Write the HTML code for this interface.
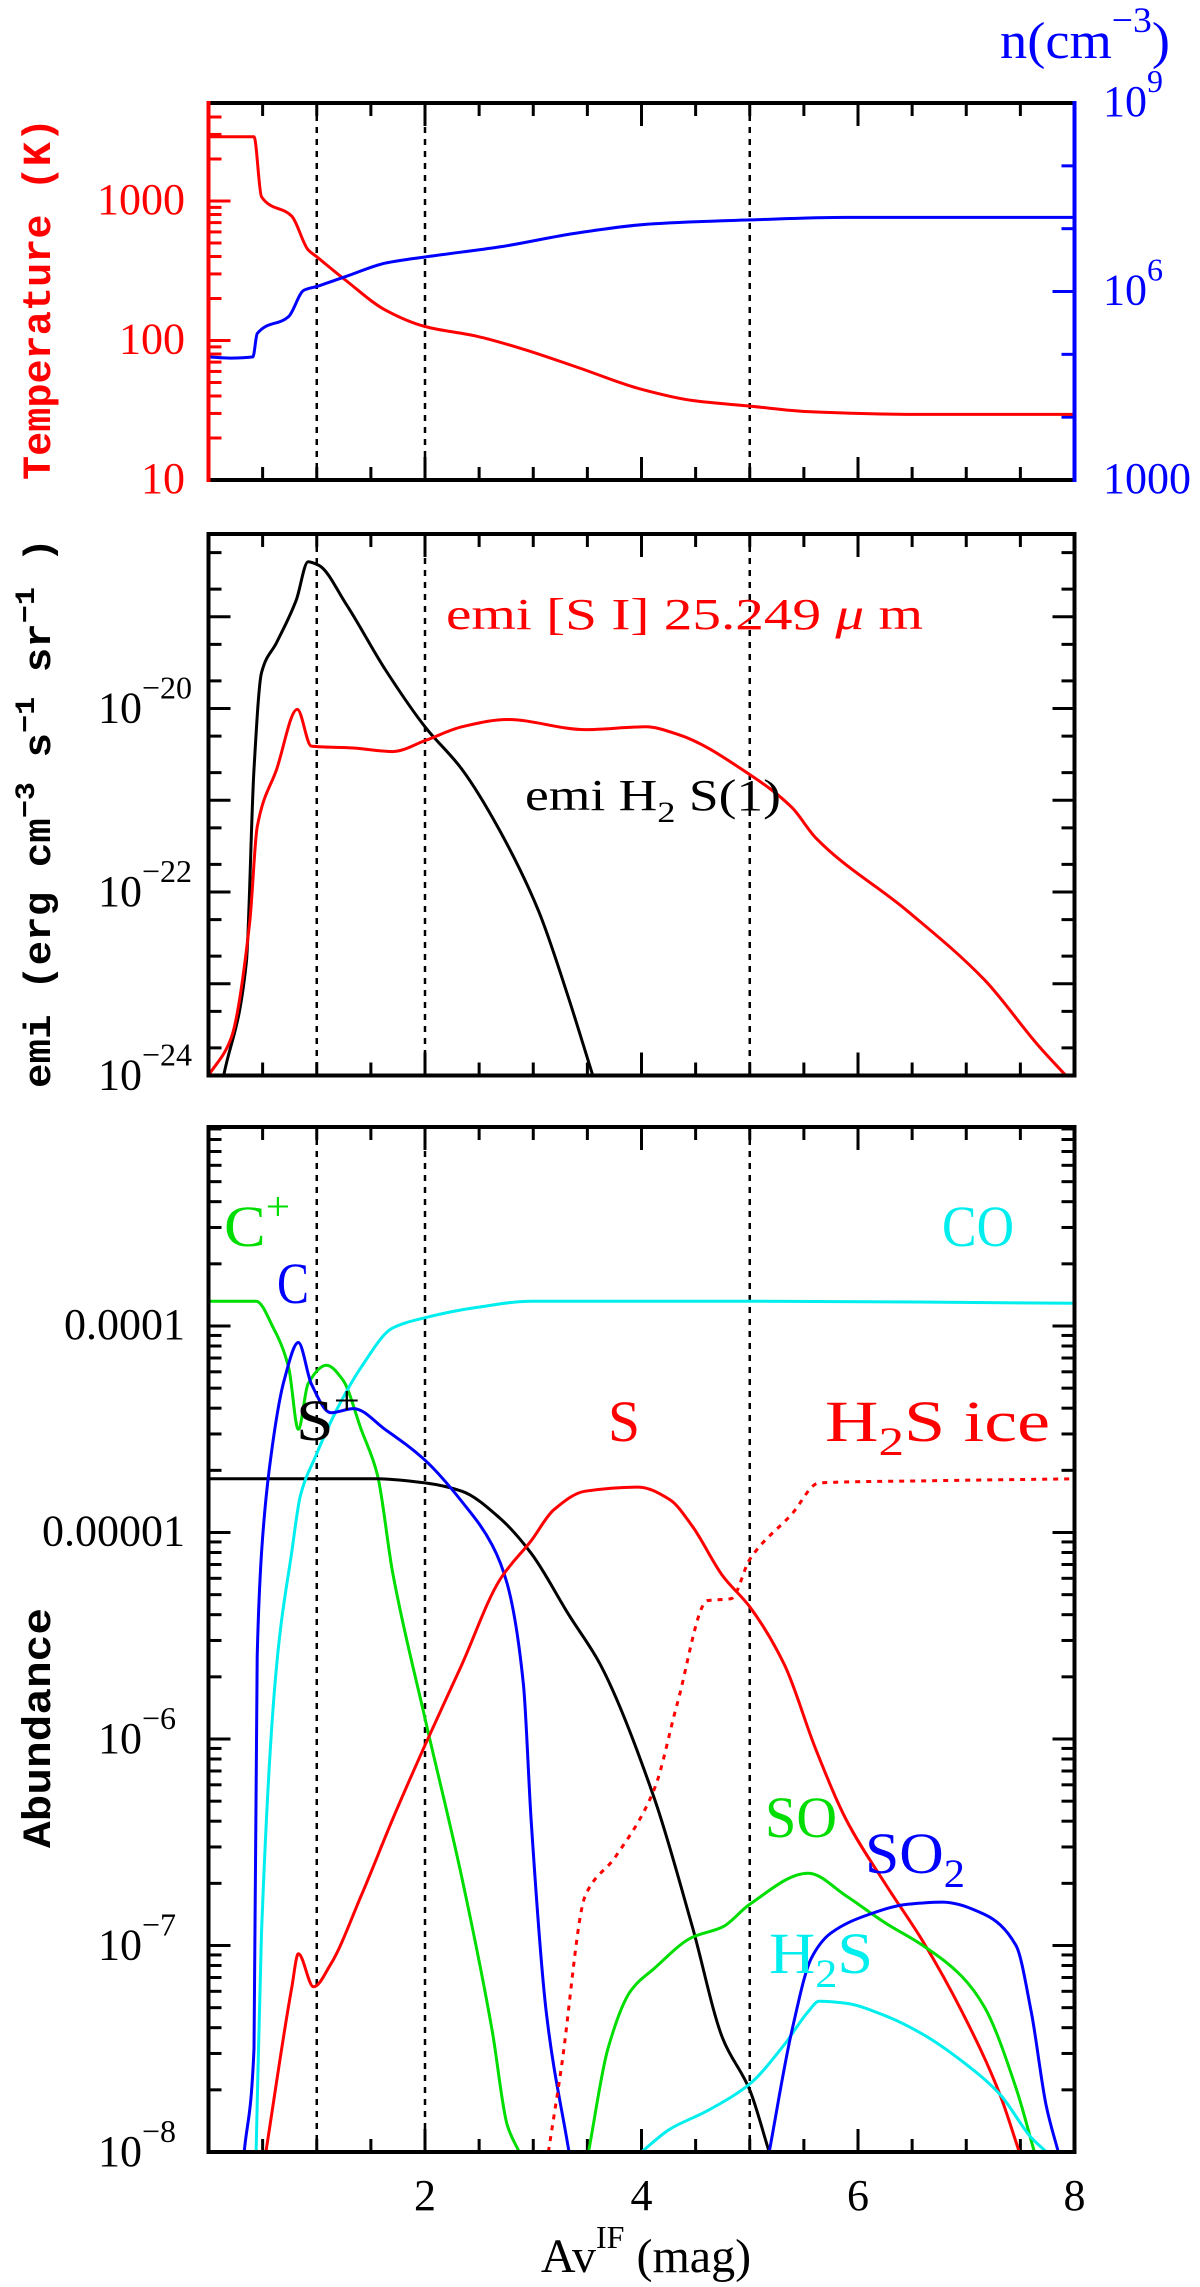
<!DOCTYPE html>
<html><head><meta charset="utf-8"><title>PDR profiles</title>
<style>
html,body{margin:0;padding:0;background:#fff;}
svg{display:block;}
text{font-family:"Liberation Serif",serif;}
.mono{font-family:"Liberation Mono",monospace;font-weight:bold;}
</style></head>
<body>
<svg id="chart" width="1200" height="2287" viewBox="0 0 1200 2287" xmlns="http://www.w3.org/2000/svg">
<defs>
<clipPath id="c1"><rect x="208.5" y="103" width="866" height="377"/></clipPath>
<clipPath id="c2"><rect x="208.5" y="534" width="866" height="541.5"/></clipPath>
<clipPath id="c3"><rect x="208.5" y="1127" width="866" height="1025"/></clipPath>
</defs>
<g id="g1"></g>
<g id="g2"></g>
<g id="g3"></g>
<g id="labels">
<text class="mono" font-size="40" fill="#f00" transform="translate(50,299) rotate(-90)" text-anchor="middle" textLength="362" lengthAdjust="spacingAndGlyphs">Temperature (K)</text>
<text x="1000" y="58" font-size="52" fill="#00f" textLength="170" lengthAdjust="spacingAndGlyphs">n(cm<tspan dy="-26" font-size="36">−3</tspan><tspan dy="26">)</tspan></text>
<text class="mono" font-size="38" fill="#000" transform="translate(50,813) rotate(-90)" text-anchor="middle" xml:space="preserve" textLength="550" lengthAdjust="spacingAndGlyphs">emi (erg cm<tspan dy="-16" font-size="28">−3</tspan><tspan dy="16"> s</tspan><tspan dy="-16" font-size="28">−1</tspan><tspan dy="16"> sr</tspan><tspan dy="-16" font-size="28">−1</tspan><tspan dy="16"> )</tspan></text>
<text class="mono" font-size="40" fill="#000" transform="translate(50,1728) rotate(-90)" text-anchor="middle" textLength="240" lengthAdjust="spacingAndGlyphs">Abundance</text>
<text x="446" y="629" font-size="44" fill="#f00" textLength="477" lengthAdjust="spacingAndGlyphs">emi [S I] 25.249 <tspan font-style="italic">μ</tspan> m</text>
<text x="525" y="810" font-size="44" fill="#000" textLength="256" lengthAdjust="spacingAndGlyphs">emi H<tspan dy="12" font-size="30">2</tspan><tspan dy="-12"> S(1)</tspan></text>
<text x="224" y="1246" font-size="58" fill="#0d0" textLength="66" lengthAdjust="spacingAndGlyphs">C<tspan dy="-26" font-size="40">+</tspan></text>
<text x="277" y="1303" font-size="58" fill="#00f" textLength="32" lengthAdjust="spacingAndGlyphs">C</text>
<text x="296" y="1440" font-size="58" fill="#000" textLength="64" lengthAdjust="spacingAndGlyphs">S<tspan dy="-26" font-size="40">+</tspan></text>
<text x="942" y="1246" font-size="58" fill="#0ee" textLength="72" lengthAdjust="spacingAndGlyphs">CO</text>
<text x="608" y="1441" font-size="58" fill="#f00" textLength="32" lengthAdjust="spacingAndGlyphs">S</text>
<text x="825" y="1441" font-size="58" fill="#f00" textLength="225" lengthAdjust="spacingAndGlyphs">H<tspan dy="14" font-size="40">2</tspan><tspan dy="-14">S ice</tspan></text>
<text x="765" y="1837" font-size="58" fill="#0d0" textLength="72" lengthAdjust="spacingAndGlyphs">SO</text>
<text x="865" y="1873" font-size="58" fill="#00f" textLength="100" lengthAdjust="spacingAndGlyphs">SO<tspan dy="14" font-size="40">2</tspan></text>
<text x="769" y="1973" font-size="58" fill="#0ee" textLength="104" lengthAdjust="spacingAndGlyphs">H<tspan dy="14" font-size="40">2</tspan><tspan dy="-14">S</tspan></text>
<text x="646" y="2272" font-size="48" text-anchor="middle" fill="#000">Av<tspan dy="-24" font-size="32">IF</tspan><tspan dy="24"> (mag)</tspan></text>
</g>
</svg>
<script>
// ---------- data (x = Av^IF in mag, values are log10) ----------
const tempX   = [0,0.42,0.49,0.77,0.92,1.0,1.27,1.63,2.0,2.48,2.9,3.4,4.0,4.47,5.0,5.54,6.6,8];
const tempLog = [3.46,3.46,3.03,2.89,2.65,2.6,2.43,2.22,2.10,2.03,1.94,1.81,1.65,1.57,1.53,1.49,1.47,1.47];
const densX   = [0,0.2,0.41,0.45,0.74,0.88,1.0,1.27,1.63,2.0,2.69,3.4,4.12,5.0,5.9,8];
const densLog = [4.96,4.94,4.96,5.33,5.6,6.02,6.08,6.24,6.45,6.55,6.71,6.93,7.08,7.14,7.18,7.18];

const h2EmiX   = [0.14,0.35,0.42,0.49,0.63,0.81,0.92,1.02,1.27,1.63,2.0,2.34,2.69,3.05,3.33,3.55];
const h2EmiLog = [-24.0,-22.76,-20.66,-19.61,-19.28,-18.82,-18.40,-18.44,-18.86,-19.57,-20.2,-20.66,-21.33,-22.21,-23.17,-24.0];
const siEmiX   = [0,0.21,0.38,0.45,0.63,0.82,0.95,1.34,1.70,2.0,2.34,2.76,3.48,4.04,4.33,5.0,5.39,5.61,6.46,7.17,7.67,7.92];
const siEmiLog = [-24.0,-23.59,-22.34,-21.29,-20.66,-20.01,-20.41,-20.43,-20.47,-20.35,-20.2,-20.12,-20.23,-20.2,-20.28,-20.72,-21.08,-21.41,-22.21,-22.96,-23.68,-24.0];

const cPlusX   = [0,0.44,0.6,0.74,0.83,0.92,1.09,1.24,1.41,1.56,1.70,2.0,2.34,2.62,2.76,2.87];
const cPlusLog = [-3.88,-3.88,-4.01,-4.2,-4.5,-4.28,-4.19,-4.26,-4.5,-4.72,-5.19,-5.9,-6.67,-7.41,-7.87,-8.0];
const cX       = [0.33,0.42,0.45,0.49,0.56,0.70,0.83,0.95,1.13,1.34,1.63,2.0,2.34,2.62,2.76,2.91,2.98,3.12,3.33];
const cLog     = [-8.0,-7.5,-5.6,-5.1,-4.7,-4.26,-4.08,-4.28,-4.42,-4.4,-4.5,-4.65,-4.85,-5.06,-5.25,-5.74,-6.39,-7.32,-8.0];
const coX      = [0.44,0.49,0.63,0.77,0.85,0.99,1.2,1.41,1.70,2.0,2.48,2.98,5.0,8];
const coLog    = [-8.0,-6.94,-5.64,-5.09,-4.82,-4.63,-4.39,-4.2,-4.01,-3.96,-3.91,-3.88,-3.88,-3.89];
const sPlusX   = [0,1.56,2.0,2.34,2.69,2.98,3.33,3.62,4.12,4.47,4.75,5.0,5.18];
const sPlusLog = [-4.74,-4.74,-4.76,-4.8,-4.93,-5.1,-5.4,-5.64,-6.29,-6.91,-7.45,-7.7,-8.0];
const sX       = [0.53,0.77,0.83,0.97,1.13,1.41,1.70,2.0,2.34,2.69,2.98,3.19,3.48,3.97,4.26,4.47,4.75,5.0,5.32,5.61,5.89,6.25,6.6,6.96,7.31,7.49];
const sLog     = [-8.0,-7.2,-7.04,-7.2,-7.09,-6.76,-6.39,-6.03,-5.64,-5.23,-5.04,-4.89,-4.8,-4.78,-4.84,-4.97,-5.21,-5.36,-5.64,-6.05,-6.39,-6.7,-6.98,-7.32,-7.72,-8.0];
const h2sIceX  = [3.14,3.26,3.48,3.76,4.12,4.33,4.61,4.83,5.0,5.39,5.64,6.6,8];
const h2sIceLog= [-8.0,-7.59,-6.76,-6.57,-6.24,-5.83,-5.33,-5.32,-5.13,-4.91,-4.76,-4.75,-4.74];
const soX      = [3.51,3.69,3.9,4.12,4.47,4.75,5.0,5.54,5.89,6.25,6.6,6.96,7.17,7.46,7.63];
const soLog    = [-8.0,-7.5,-7.22,-7.11,-6.96,-6.91,-6.8,-6.65,-6.76,-6.89,-7.0,-7.15,-7.3,-7.69,-8.0];
const so2X     = [5.18,5.39,5.57,5.75,6.1,6.46,6.78,7.17,7.46,7.6,7.74,7.85];
const so2Log   = [-8.0,-7.41,-7.06,-6.94,-6.85,-6.8,-6.79,-6.85,-7.0,-7.32,-7.78,-8.0];
const h2sX     = [4.0,4.26,4.61,5.0,5.32,5.54,5.64,5.89,6.25,6.6,6.96,7.31,7.6,7.74];
const h2sLog   = [-8.0,-7.89,-7.8,-7.67,-7.48,-7.32,-7.27,-7.28,-7.34,-7.43,-7.56,-7.72,-7.93,-8.0];

const xTickLabels = ['2','4','6','8'];
const xTickValues = [2,4,6,8];
const refLines = [1,2,5];

// ---------- axes ----------
const NS = 'http://www.w3.org/2000/svg';
const X0 = 208.5, X1 = 1074.5, XMAX = 8;
const xs = v => X0 + (X1 - X0) * v / XMAX;
const P1 = {top:103, bot:480}, P2 = {top:534, bot:1075.5}, P3 = {top:1127, bot:2152};
const yT = l => P1.bot - (l - 1) * 139.5;
const yN = l => P1.bot - (l - 3) * 62.83;
const yE = l => P2.bot - (l + 24) * 91.75;
const yA = l => P3.bot - (l + 8) * 206.5;

function el(parent, tag, attrs) {
  const e = document.createElementNS(NS, tag);
  for (const k in attrs) e.setAttribute(k, attrs[k]);
  parent.appendChild(e);
  return e;
}
// monotone cubic (Fritsch-Carlson) path through points in pixel space
function monoPath(px, py) {
  const n = px.length;
  if (n < 2) return '';
  const d = [], m = new Array(n);
  for (let i = 0; i < n - 1; i++) d.push((py[i + 1] - py[i]) / ((px[i + 1] - px[i]) || 1e-6));
  m[0] = d[0]; m[n - 1] = d[n - 2];
  for (let i = 1; i < n - 1; i++) {
    if (d[i - 1] * d[i] <= 0) m[i] = 0;
    else {
      const w1 = 2 * (px[i + 1] - px[i]) + (px[i] - px[i - 1]);
      const w2 = (px[i + 1] - px[i]) + 2 * (px[i] - px[i - 1]);
      m[i] = (w1 + w2) / (w1 / d[i - 1] + w2 / d[i]);
    }
  }
  let s = 'M' + px[0].toFixed(1) + ',' + py[0].toFixed(1);
  for (let i = 0; i < n - 1; i++) {
    const h = (px[i + 1] - px[i]) / 3;
    s += 'C' + (px[i] + h).toFixed(1) + ',' + (py[i] + m[i] * h).toFixed(1) + ' ' +
         (px[i + 1] - h).toFixed(1) + ',' + (py[i + 1] - m[i + 1] * h).toFixed(1) + ' ' +
         px[i + 1].toFixed(1) + ',' + py[i + 1].toFixed(1);
  }
  return s;
}
function curve(parent, xsArr, ysArr, yf, color, clip, name, dash) {
  const px = xsArr.map(xs), py = ysArr.map(yf);
  const p = el(parent, 'path', {d: monoPath(px, py), fill: 'none', stroke: color, 'stroke-width': 3, 'stroke-linejoin': 'round', 'clip-path': 'url(#' + clip + ')'});
  if (dash) p.setAttribute('stroke-dasharray', dash);
  
  
}
function xTicks(g, P) {
  for (let i = 1; i < 16; i++) {
    const v = i * 0.5, len = (i % 4 === 0) ? 23 : 13;
    const a = el(g, 'line', {x1: xs(v), x2: xs(v), y1: P.bot, y2: P.bot - len, stroke: '#000', 'stroke-width': 3});
    
    
    const b = el(g, 'line', {x1: xs(v), x2: xs(v), y1: P.top, y2: P.top + len, stroke: '#000', 'stroke-width': 3});
    
    
  }
}
function logTicks(g, P, yf, lo, hi, mults, colorL, colorR, rightSide) {
  for (let d = Math.floor(lo); d <= Math.ceil(hi); d++) {
    for (const m of mults) {
      const l = d + Math.log10(m);
      if (l < lo - 1e-6 || l > hi + 1e-6) continue;
      const y = yf(l), len = (m === 1) ? 22 : 13;
      const t = el(g, 'line', {x1: X0, x2: X0 + len, y1: y, y2: y, stroke: colorL, 'stroke-width': 3});
      
      
      if (rightSide) {
        const r = el(g, 'line', {x1: X1, x2: X1 - len, y1: y, y2: y, stroke: colorR, 'stroke-width': 3});
        
        
      }
    }
  }
}
function refDash(g, P) {
  for (const v of refLines) {
    const l = el(g, 'line', {x1: xs(v), x2: xs(v), y1: P.top, y2: P.bot, stroke: '#000', 'stroke-width': 2.5, 'stroke-dasharray': '6,6'});
    
    
  }
}
function frame(g, P, cl, cr) {
  const t = el(g, 'line', {x1: X0, x2: X1, y1: P.top, y2: P.top, stroke: '#000', 'stroke-width': 4});
   
  const b = el(g, 'line', {x1: X0, x2: X1, y1: P.bot, y2: P.bot, stroke: '#000', 'stroke-width': 4});
   
  const l = el(g, 'line', {x1: X0, x2: X0, y1: P.top - 2, y2: P.bot + 2, stroke: cl, 'stroke-width': 4});
   
  const r = el(g, 'line', {x1: X1, x2: X1, y1: P.top - 2, y2: P.bot + 2, stroke: cr, 'stroke-width': 4});
   
}
function label(g, x, y, base, exp, color, anchor, name) {
  const t = el(g, 'text', {x: x, y: y, 'font-size': 44, fill: color, 'text-anchor': anchor});
  t.textContent = base;
  if (exp) {
    const s = el(t, 'tspan', {dy: -24, 'font-size': 32});
    s.textContent = exp;
  }
  
  
}

// ---------- panel 1 ----------
const g1 = document.getElementById('g1');
refDash(g1, P1);
xTicks(g1, P1);
logTicks(g1, P1, yT, 1, 3.70, [1,2,3,4,5,6,7,8,9], '#f00', '#f00', false);
for (let l = 3; l <= 9; l++) {
  const y = yN(l), len = (l % 3 === 0) ? 22 : 13;
  const t = el(g1, 'line', {x1: X1, x2: X1 - len, y1: y, y2: y, stroke: '#00f', 'stroke-width': 3});
  
  
}
curve(g1, tempX, tempLog, yT, '#f00', 'c1', 'temperature-curve');
curve(g1, densX, densLog, yN, '#00f', 'c1', 'density-curve');
frame(g1, P1, '#f00', '#00f');
label(g1, 185, yT(3) + 13, '1000', '', '#f00', 'end', 'temp-label-1000');
label(g1, 185, yT(2) + 13, '100', '', '#f00', 'end', 'temp-label-100');
label(g1, 185, yT(1) + 13, '10', '', '#f00', 'end', 'temp-label-10');
label(g1, 1103, yN(9) + 13, '10', '9', '#00f', 'start', 'density-label-1e9');
label(g1, 1103, yN(6) + 13, '10', '6', '#00f', 'start', 'density-label-1e6');
label(g1, 1103, yN(3) + 13, '1000', '', '#00f', 'start', 'density-label-1000');

// ---------- panel 2 ----------
const g2 = document.getElementById('g2');
refDash(g2, P2);
xTicks(g2, P2);
logTicks(g2, P2, yE, -24, -18.1, [1,2,5], '#000', '#000', true);
curve(g2, h2EmiX, h2EmiLog, yE, '#000', 'c2', 'h2-emission-curve');
curve(g2, siEmiX, siEmiLog, yE, '#f00', 'c2', 'si-emission-curve');
frame(g2, P2, '#000', '#000');
for (const e of [-20, -22, -24]) label(g2, 98, yE(e) + 14, '10', '−' + (-e), '#000', 'start', 'emi-label-' + (-e));

// ---------- panel 3 ----------
const g3 = document.getElementById('g3');
refDash(g3, P3);
xTicks(g3, P3);
logTicks(g3, P3, yA, -8, -3.04, [1,2,3,4,5,6,7,8,9], '#000', '#000', true);
curve(g3, cPlusX, cPlusLog, yA, '#0d0', 'c3', 'cplus-curve');
curve(g3, sPlusX, sPlusLog, yA, '#000', 'c3', 'splus-curve');
curve(g3, coX, coLog, yA, '#0ee', 'c3', 'co-curve');
curve(g3, cX, cLog, yA, '#00f', 'c3', 'c-curve');
curve(g3, sX, sLog, yA, '#f00', 'c3', 's-curve');
curve(g3, h2sIceX, h2sIceLog, yA, '#f00', 'c3', 'h2s-ice-curve', '5,6');
curve(g3, soX, soLog, yA, '#0d0', 'c3', 'so-curve');
curve(g3, h2sX, h2sLog, yA, '#0ee', 'c3', 'h2s-curve');
curve(g3, so2X, so2Log, yA, '#00f', 'c3', 'so2-curve');
frame(g3, P3, '#000', '#000');
label(g3, 185, yA(-4) + 13, '0.0001', '', '#000', 'end', 'abund-label-1e-4');
label(g3, 185, yA(-5) + 13, '0.00001', '', '#000', 'end', 'abund-label-1e-5');
for (const e of [-6, -7, -8]) label(g3, 98, yA(e) + 14, '10', '−' + (-e), '#000', 'start', 'abund-label-' + (-e));
for (let i = 0; i < xTickValues.length; i++) label(g3, xs(xTickValues[i]), 2210, xTickLabels[i], '', '#000', 'middle', 'x-tick-label-' + xTickLabels[i]);
</script>
</body></html>
